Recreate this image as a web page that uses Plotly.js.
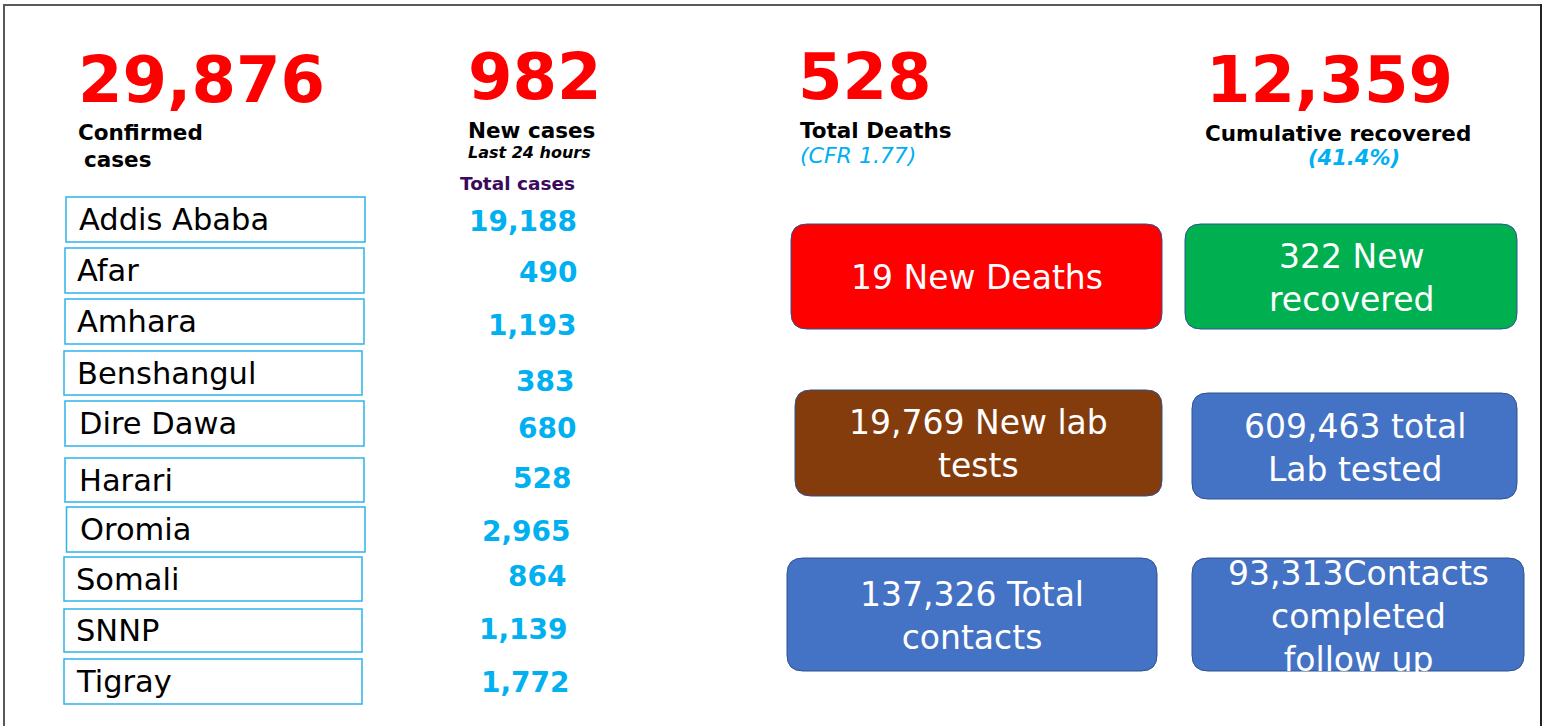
<!DOCTYPE html>
<html><head><meta charset="utf-8">
<script src="https://cdn.plot.ly/plotly-3.0.1.min.js"></script>
<style>html,body{margin:0;padding:0;background:#fff;overflow:hidden}</style>
</head><body><div id="chart" style="width:1546px;height:726px"></div>
<script>
// ---------- DATA ----------
const regions = ['Addis Ababa','Afar','Amhara','Benshangul','Dire Dawa','Harari','Oromia','Somali','SNNP','Tigray'];
const regionTotals = [19188, 490, 1193, 383, 680, 528, 2965, 864, 1139, 1772];
const headlineValues = [29876, 982, 528, 12359];
const headlineLabels = ['Confirmed', 'New cases', 'Total Deaths', 'Cumulative recovered'];
const cfrValue = 1.77;
const recoveredPct = 41.4;
const newDeaths = 19;
const newRecovered = 322;
const newLabTests = 19769;
const totalLabTested = 609463;
const totalContacts = 137326;
const contactsCompleted = 93313;

// ---------- LAYOUT GEOMETRY (pixels) ----------
const rowTop    = [197, 248, 299, 351, 401, 458, 507, 557, 609, 659];
const rowBottom = [242, 293, 344, 395, 446, 502, 552, 601, 652, 704];
const rowLeft   = [66, 65, 65, 64, 65, 65, 66.5, 64, 64, 64];
const rowRight  = [365, 364, 364, 362, 364, 364, 365, 362, 362, 362];
const nameX     = [77, 75, 75, 75, 77, 77, 78, 74, 74, 74];
const valRight  = [579, 579, 579, 576, 578, 573, 573, 568, 570, 572];
const valY      = [221, 272, 325, 381, 428, 478, 531, 576, 629, 682];

const fmt = v => v.toLocaleString('en-US');
const FONT = 'DejaVu Sans, Verdana, sans-serif';
const RED = '#FF0000', LBLUE = '#00B0F0';

function rr(x0, y0, x1, y1, r) {
  return `M${x0+r},${y0} L${x1-r},${y0} Q${x1},${y0} ${x1},${y0+r} L${x1},${y1-r} Q${x1},${y1} ${x1-r},${y1} ` +
         `L${x0+r},${y1} Q${x0},${y1} ${x0},${y1-r} L${x0},${y0+r} Q${x0},${y0} ${x0+r},${y0} Z`;
}

const shapes = [];
const annotations = [];
function ann(text, x, y, opts) {
  annotations.push(Object.assign({
    text: text, x: x, y: y, xref: 'x', yref: 'y', showarrow: false,
    xanchor: 'left', yanchor: 'middle', align: 'left',
    font: {family: FONT, size: 20, color: '#000'}
  }, opts));
}

// frame
shapes.push({type: 'line', x0: 3, x1: 1542, y0: 5, y1: 5, xref: 'x', yref: 'y', line: {color: '#595959', width: 2}});
shapes.push({type: 'line', x0: 4, x1: 4, y0: 4, y1: 726, xref: 'x', yref: 'y', line: {color: '#595959', width: 2}});
shapes.push({type: 'line', x0: 1541, x1: 1541, y0: 4, y1: 726, xref: 'x', yref: 'y', line: {color: '#222222', width: 2}});

// headline numbers
const headX = [76, 466, 796, 1204];
const headY = [80, 77, 77, 80];
headlineValues.forEach((v, i) => {
  ann(fmt(v), headX[i], headY[i], {font: {family: FONT, size: 64, color: RED, weight: 'bold'}});
});
// headline labels
const lblFont = {family: FONT, size: 21.5, color: '#000', weight: 'bold'};
ann(headlineLabels[0], 76, 132, {font: lblFont});
ann('cases', 82, 159, {font: lblFont});
ann(headlineLabels[1], 466, 130, {font: lblFont});
ann('Last 24 hours', 466, 152, {font: {family: FONT, size: 16, color: '#000', weight: 'bold', style: 'italic'}});
ann('Total cases', 458, 183, {font: {family: FONT, size: 18.5, color: '#3B0A5E', weight: 'bold'}});
ann(headlineLabels[2], 798, 130, {font: lblFont});
ann('(CFR ' + cfrValue + ')', 798, 155, {font: {family: FONT, size: 22, color: LBLUE, style: 'italic'}});
ann(headlineLabels[3], 1203, 133, {font: lblFont});
ann('(' + recoveredPct + '%)', 1306, 158, {font: {family: FONT, size: 21, color: LBLUE, weight: 'bold', style: 'italic'}});

// region rows
regions.forEach((name, i) => {
  shapes.push({type: 'rect', xref: 'x', yref: 'y', x0: rowLeft[i], x1: rowRight[i], y0: rowTop[i], y1: rowBottom[i],
    line: {color: '#2DB4EC', width: 1.5}, fillcolor: '#FFFFFF'});
  ann(name, nameX[i], (rowTop[i] + rowBottom[i]) / 2, {font: {family: FONT, size: 30.5, color: '#000'}});
  ann(fmt(regionTotals[i]), valRight[i], valY[i], {xanchor: 'right', align: 'right',
    font: {family: FONT, size: 28, color: LBLUE, weight: 'bold'}});
});

// coloured rounded boxes
const tiles = [
  {text: newDeaths + ' New Deaths', box: [791, 224, 1162, 329], fill: '#FF0000', ty: 277},
  {text: newRecovered + ' New<br>recovered', box: [1185, 224, 1517, 329], fill: '#00B050', ty: 278},
  {text: fmt(newLabTests) + ' New lab<br>tests', box: [795, 390, 1162, 496], fill: '#843C0C', ty: 444},
  {text: fmt(totalLabTested) + ' total<br>Lab tested', box: [1192, 393, 1517, 499], fill: '#4472C4', ty: 448},
  {text: fmt(totalContacts) + ' Total<br>contacts', box: [787, 558, 1157, 671], fill: '#4472C4', ty: 616},
  {text: fmt(contactsCompleted) + 'Contacts<br>completed<br>follow up', box: [1192, 558, 1524, 671], fill: '#4472C4', ty: 616}
];
tiles.forEach(t => {
  const [x0, y0, x1, y1] = t.box;
  shapes.push({type: 'path', xref: 'x', yref: 'y', path: rr(x0, y0, x1, y1, 16),
    fillcolor: t.fill, line: {color: '#2F528F', width: 1}});
  ann(t.text, (x0 + x1) / 2, t.ty, {xanchor: 'center', align: 'center',
    font: {family: FONT, size: 33, color: '#FFFFFF'}});
});

const layout = {
  width: 1546, height: 726,
  margin: {l: 0, r: 0, t: 0, b: 0, pad: 0},
  paper_bgcolor: '#FFFFFF', plot_bgcolor: '#FFFFFF',
  xaxis: {range: [0, 1546], visible: false, fixedrange: true},
  yaxis: {range: [726, 0], visible: false, fixedrange: true},
  showlegend: false,
  shapes: shapes,
  annotations: annotations
};
Plotly.newPlot('chart', [{type: 'scatter', x: [], y: [], hoverinfo: 'skip'}], layout, {displayModeBar: false, staticPlot: true});
</script>
</body></html>
